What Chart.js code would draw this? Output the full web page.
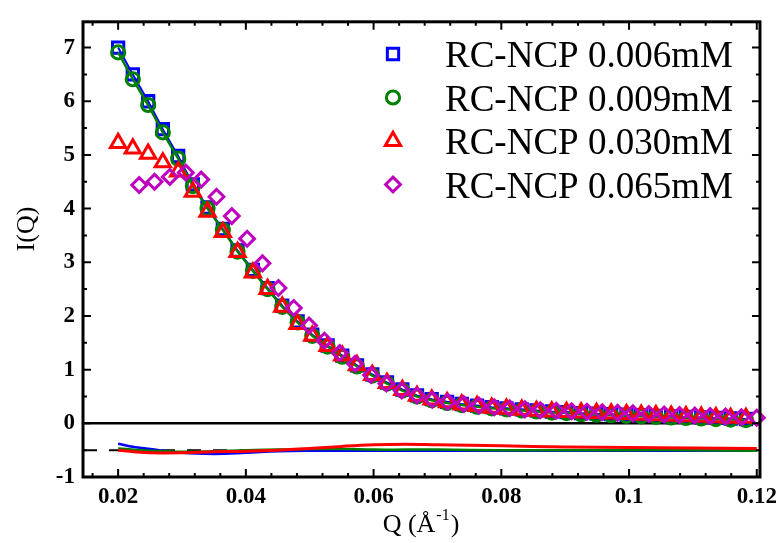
<!DOCTYPE html>
<html>
<head>
<meta charset="utf-8">
<script src="https://cdn.jsdelivr.net/npm/chart.js@4.4.1/dist/chart.umd.min.js"></script>
<style>
  html, body { margin: 0; padding: 0; background: #fff; }
</style>
</head>
<body>
<canvas id="myChart" width="783" height="543"></canvas>
<script>
// Q grid for 0.006 / 0.009 / 0.030 mM
const qMain = [
  0.0200, 0.0223, 0.0247, 0.0270, 0.0294, 0.0317, 0.0340, 0.0364, 0.0387, 0.0411,
  0.0434, 0.0457, 0.0481, 0.0504, 0.0528, 0.0551, 0.0574, 0.0598, 0.0621, 0.0645,
  0.0668, 0.0691, 0.0715, 0.0738, 0.0762, 0.0785, 0.0808, 0.0832, 0.0855, 0.0879,
  0.0902, 0.0925, 0.0949, 0.0972, 0.0996, 0.1019, 0.1042, 0.1066, 0.1089, 0.1113,
  0.1136, 0.1159, 0.1183,
];
// Q grid for 0.065 mM
const qHigh = [
  0.0233, 0.0257, 0.0281, 0.0306, 0.0330, 0.0354, 0.0378, 0.0402, 0.0426, 0.0451,
  0.0475, 0.0499, 0.0523, 0.0547, 0.0571, 0.0596, 0.0620, 0.0644, 0.0668, 0.0692,
  0.0716, 0.0741, 0.0765, 0.0789, 0.0813, 0.0837, 0.0861, 0.0886, 0.0910, 0.0934,
  0.0958, 0.0982, 0.1006, 0.1031, 0.1055, 0.1079, 0.1103, 0.1127, 0.1151, 0.1176,
  0.1200,
];

const i006 = [
  7.00, 6.50, 6.00, 5.48, 4.98, 4.45, 4.02, 3.62, 3.22, 2.86,
  2.52, 2.19, 1.90, 1.65, 1.45, 1.26, 1.08, 0.91, 0.76, 0.63,
  0.52, 0.45, 0.40, 0.36, 0.33, 0.30, 0.28, 0.26, 0.24, 0.22,
  0.21, 0.19, 0.18, 0.17, 0.16, 0.15, 0.14, 0.13, 0.12, 0.11,
  0.10, 0.09, 0.08,
];
const i009 = [
  6.91, 6.41, 5.93, 5.42, 4.93, 4.42, 4.00, 3.60, 3.20, 2.84,
  2.50, 2.17, 1.88, 1.63, 1.43, 1.24, 1.06, 0.89, 0.74, 0.61,
  0.50, 0.43, 0.38, 0.34, 0.31, 0.28, 0.26, 0.24, 0.22, 0.20,
  0.19, 0.17, 0.16, 0.15, 0.14, 0.13, 0.12, 0.11, 0.10, 0.09,
  0.08, 0.07, 0.06,
];
const i030 = [
  5.22, 5.12, 5.02, 4.86, 4.69, 4.31, 3.94, 3.56, 3.19, 2.81,
  2.50, 2.17, 1.85, 1.63, 1.44, 1.26, 1.08, 0.90, 0.75, 0.62,
  0.51, 0.44, 0.39, 0.35, 0.32, 0.29, 0.27, 0.25, 0.23, 0.22,
  0.21, 0.20, 0.19, 0.18, 0.17, 0.16, 0.15, 0.14, 0.13, 0.12,
  0.11, 0.10, 0.10,
];
const i065 = [
  4.44, 4.50, 4.59, 4.67, 4.54, 4.22, 3.86, 3.44, 2.98, 2.52,
  2.15, 1.82, 1.54, 1.31, 1.11, 0.90, 0.74, 0.61, 0.52, 0.44,
  0.40, 0.36, 0.33, 0.30, 0.28, 0.26, 0.245, 0.235, 0.225, 0.215,
  0.205, 0.195, 0.185, 0.175, 0.165, 0.155, 0.145, 0.135, 0.125, 0.115,
  0.105,
];

// residuals, shifted to -0.5
const qRes = [0.0200, 0.0225, 0.0250, 0.0300, 0.0350, 0.0400, 0.0450, 0.0500, 0.0550,
  0.0600, 0.0650, 0.0700, 0.0800, 0.0900, 0.1000, 0.1100, 0.1200];
const r006 = [-0.38, -0.44, -0.48, -0.55, -0.57, -0.55, -0.52, -0.51, -0.51,
  -0.51, -0.51, -0.51, -0.51, -0.51, -0.51, -0.51, -0.51];
const r009 = [-0.47, -0.49, -0.51, -0.53, -0.52, -0.50, -0.49, -0.48, -0.48,
  -0.49, -0.49, -0.49, -0.50, -0.50, -0.50, -0.50, -0.51];
const r030 = [-0.50, -0.53, -0.55, -0.55, -0.53, -0.52, -0.50, -0.47, -0.43,
  -0.40, -0.39, -0.40, -0.42, -0.44, -0.45, -0.46, -0.47];

const labels = ["RC-NCP 0.006mM", "RC-NCP 0.009mM", "RC-NCP 0.030mM", "RC-NCP 0.065mM"];
const xTicks = [0.02, 0.04, 0.06, 0.08, 0.1, 0.12];
const yTicks = [-1, 0, 1, 2, 3, 4, 5, 6, 7];

const BLUE = "#0000ff", GREEN = "#008000", RED = "#ff0000", MAG = "#bf00bf";
const SERIF = "'Liberation Serif', 'Times New Roman', serif";
const MW = 3; // marker stroke

const pairs = (xs, ys) => xs.map((x, i) => ({ x: x, y: ys[i] }));

const markers = [
  { color: BLUE, style: "rect", r: 8 },
  { color: GREEN, style: "circle", r: 6.6 },
  { color: RED, style: "triangle", r: 8.8 },
  { color: MAG, style: "rectRot", r: 7.4 },
];

function drawMarker(ctx, m, x, y) {
  ctx.save();
  ctx.strokeStyle = m.color;
  ctx.lineWidth = MW;
  ctx.beginPath();
  if (m.style === "rect") {
    const s = m.r * Math.SQRT1_2;
    ctx.rect(x - s, y - s, 2 * s, 2 * s);
  } else if (m.style === "circle") {
    ctx.arc(x, y, m.r, 0, Math.PI * 2);
  } else if (m.style === "triangle") {
    for (let k = 0; k < 3; k++) {
      const a = k * 2 * Math.PI / 3;
      const px = x + Math.sin(a) * m.r, py = y - Math.cos(a) * m.r;
      k ? ctx.lineTo(px, py) : ctx.moveTo(px, py);
    }
    ctx.closePath();
  } else {
    ctx.moveTo(x - m.r, y);
    ctx.lineTo(x, y - m.r);
    ctx.lineTo(x + m.r, y);
    ctx.lineTo(x, y + m.r);
    ctx.closePath();
  }
  ctx.stroke();
  ctx.restore();
}

const framePlugin = {
  id: "framePlugin",
  beforeDatasetsDraw(chart) {
    const { ctx, chartArea: a, scales } = chart;
    const y0 = scales.y.getPixelForValue(0);
    const yr = scales.y.getPixelForValue(-0.5);
    ctx.save();
    ctx.strokeStyle = "#000";
    ctx.lineWidth = 2.5;
    ctx.beginPath();
    ctx.moveTo(a.left, y0);
    ctx.lineTo(a.right, y0);
    ctx.stroke();
    ctx.setLineDash([14, 12]);
    ctx.lineWidth = 2;
    ctx.beginPath();
    ctx.moveTo(a.left, yr);
    ctx.lineTo(a.right, yr);
    ctx.stroke();
    ctx.restore();
  },
  afterDraw(chart) {
    const { ctx, chartArea: a, scales } = chart;
    const x = scales.x, y = scales.y;
    ctx.save();
    ctx.strokeStyle = "#000";
    ctx.lineWidth = 2;
    ctx.beginPath();
    // x ticks, major 0.02, minor 0.004
    for (let k = 4; k <= 30; k++) {
      const v = k * 0.004;
      if (v < x.min || v > x.max) continue;
      const px = x.getPixelForValue(v);
      const len = k % 5 === 0 ? 8 : 4;
      ctx.moveTo(px, a.bottom); ctx.lineTo(px, a.bottom - len);
      ctx.moveTo(px, a.top); ctx.lineTo(px, a.top + len);
    }
    // y ticks, major 1, minor 0.5
    for (let k = -2; k <= 14; k++) {
      const v = k * 0.5;
      const py = y.getPixelForValue(v);
      const len = k % 2 === 0 ? 8 : 4;
      ctx.moveTo(a.left, py); ctx.lineTo(a.left + len, py);
      ctx.moveTo(a.right, py); ctx.lineTo(a.right - len, py);
    }
    ctx.stroke();
    ctx.lineWidth = 3;
    ctx.strokeRect(a.left, a.top, a.right - a.left, a.bottom - a.top);

    // legend
    ctx.fillStyle = "#000";
    ctx.font = "37px " + SERIF;
    ctx.textBaseline = "alphabetic";
    ctx.textAlign = "left";
    labels.forEach((t, i) => {
      const base = 67 + i * 43.5;
      drawMarker(ctx, markers[i], 393, base - 13);
      ctx.fillText(t, 445, base);
    });

    // axis titles
    ctx.font = "26px " + SERIF;
    ctx.save();
    ctx.translate(27, 229);
    ctx.rotate(-Math.PI / 2);
    ctx.textAlign = "center";
    ctx.textBaseline = "middle";
    ctx.fillText("I(Q)", 0, 0);
    ctx.restore();

    const main = "Q (Å", sup = "-1", tail = ")";
    ctx.font = "26px " + SERIF;
    const w1 = ctx.measureText(main).width, w3 = ctx.measureText(tail).width;
    ctx.font = "16px " + SERIF;
    const w2 = ctx.measureText(sup).width;
    let sx = 420 - (w1 + w2 + w3) / 2;
    ctx.textAlign = "left";
    ctx.textBaseline = "alphabetic";
    ctx.font = "26px " + SERIF;
    ctx.fillText(main, sx, 532);
    ctx.font = "16px " + SERIF;
    ctx.fillText(sup, sx + w1 + 1, 520);
    ctx.font = "26px " + SERIF;
    ctx.fillText(tail, sx + w1 + w2 + 2, 532);
    ctx.restore();
  },
};

const ctx1 = document.getElementById("myChart").getContext("2d");

const myChart = new Chart(ctx1, {
  type: "scatter",
  data: {
    datasets: [
      {
        label: labels[0],
        data: pairs(qMain, i006),
        showLine: true,
        borderColor: BLUE,
        backgroundColor: "rgba(0,0,0,0)",
        borderWidth: 2,
        pointStyle: "rect",
        pointRadius: 8,
        pointBorderWidth: MW,
        clip: 10,
        order: 4,
      },
      {
        label: labels[1],
        data: pairs(qMain, i009),
        showLine: true,
        borderColor: GREEN,
        backgroundColor: "rgba(0,0,0,0)",
        borderWidth: 2.5,
        pointStyle: "circle",
        pointRadius: 6.6,
        pointBorderWidth: MW,
        clip: 10,
        order: 3,
      },
      {
        label: labels[2],
        data: pairs(qMain, i030),
        borderColor: RED,
        backgroundColor: "rgba(0,0,0,0)",
        pointStyle: "triangle",
        pointRadius: 8.8,
        pointBorderWidth: MW,
        clip: 10,
        order: 2,
      },
      {
        label: labels[3],
        data: pairs(qHigh, i065),
        borderColor: MAG,
        backgroundColor: "rgba(0,0,0,0)",
        pointStyle: "rectRot",
        pointRadius: 7.4,
        pointBorderWidth: MW,
        clip: 10,
        order: 1,
      },
      {
        label: "res 0.006",
        data: pairs(qRes, r006),
        showLine: true,
        borderColor: BLUE,
        borderWidth: 2.5,
        pointRadius: 0,
        tension: 0.4,
        order: 7,
      },
      {
        label: "res 0.009",
        data: pairs(qRes, r009),
        showLine: true,
        borderColor: GREEN,
        borderWidth: 2.5,
        pointRadius: 0,
        tension: 0.4,
        order: 6,
      },
      {
        label: "res 0.030",
        data: pairs(qRes, r030),
        showLine: true,
        borderColor: RED,
        borderWidth: 3,
        pointRadius: 0,
        tension: 0.4,
        order: 5,
      },
    ],
  },
  options: {
    responsive: false,
    animation: false,
    events: [],
    layout: { padding: { top: 13, right: 20, left: 0, bottom: 0 } },
    plugins: {
      legend: { display: false },
      tooltip: { enabled: false },
    },
    scales: {
      x: {
        type: "linear",
        min: 0.0145,
        max: 0.1205,
        afterBuildTicks: (s) => { s.ticks = xTicks.map((v) => ({ value: v })); },
        afterFit: (s) => { s.height = 66; },
        grid: { display: false, drawTicks: false },
        border: { display: false },
        ticks: {
          autoSkip: false,
          maxRotation: 0,
          padding: 6,
          color: "#000",
          font: { family: SERIF, size: 23, weight: "bold" },
          callback: (v) => String(Math.round(v * 100) / 100),
        },
      },
      y: {
        min: -1,
        max: 7.48,
        afterBuildTicks: (s) => { s.ticks = yTicks.map((v) => ({ value: v })); },
        afterFit: (s) => { s.width = 83; },
        grid: { display: false, drawTicks: false },
        border: { display: false },
        ticks: {
          autoSkip: false,
          padding: 8,
          color: "#000",
          font: { family: SERIF, size: 23, weight: "bold" },
        },
      },
    },
  },
  plugins: [framePlugin],
});
</script>
</body>
</html>
